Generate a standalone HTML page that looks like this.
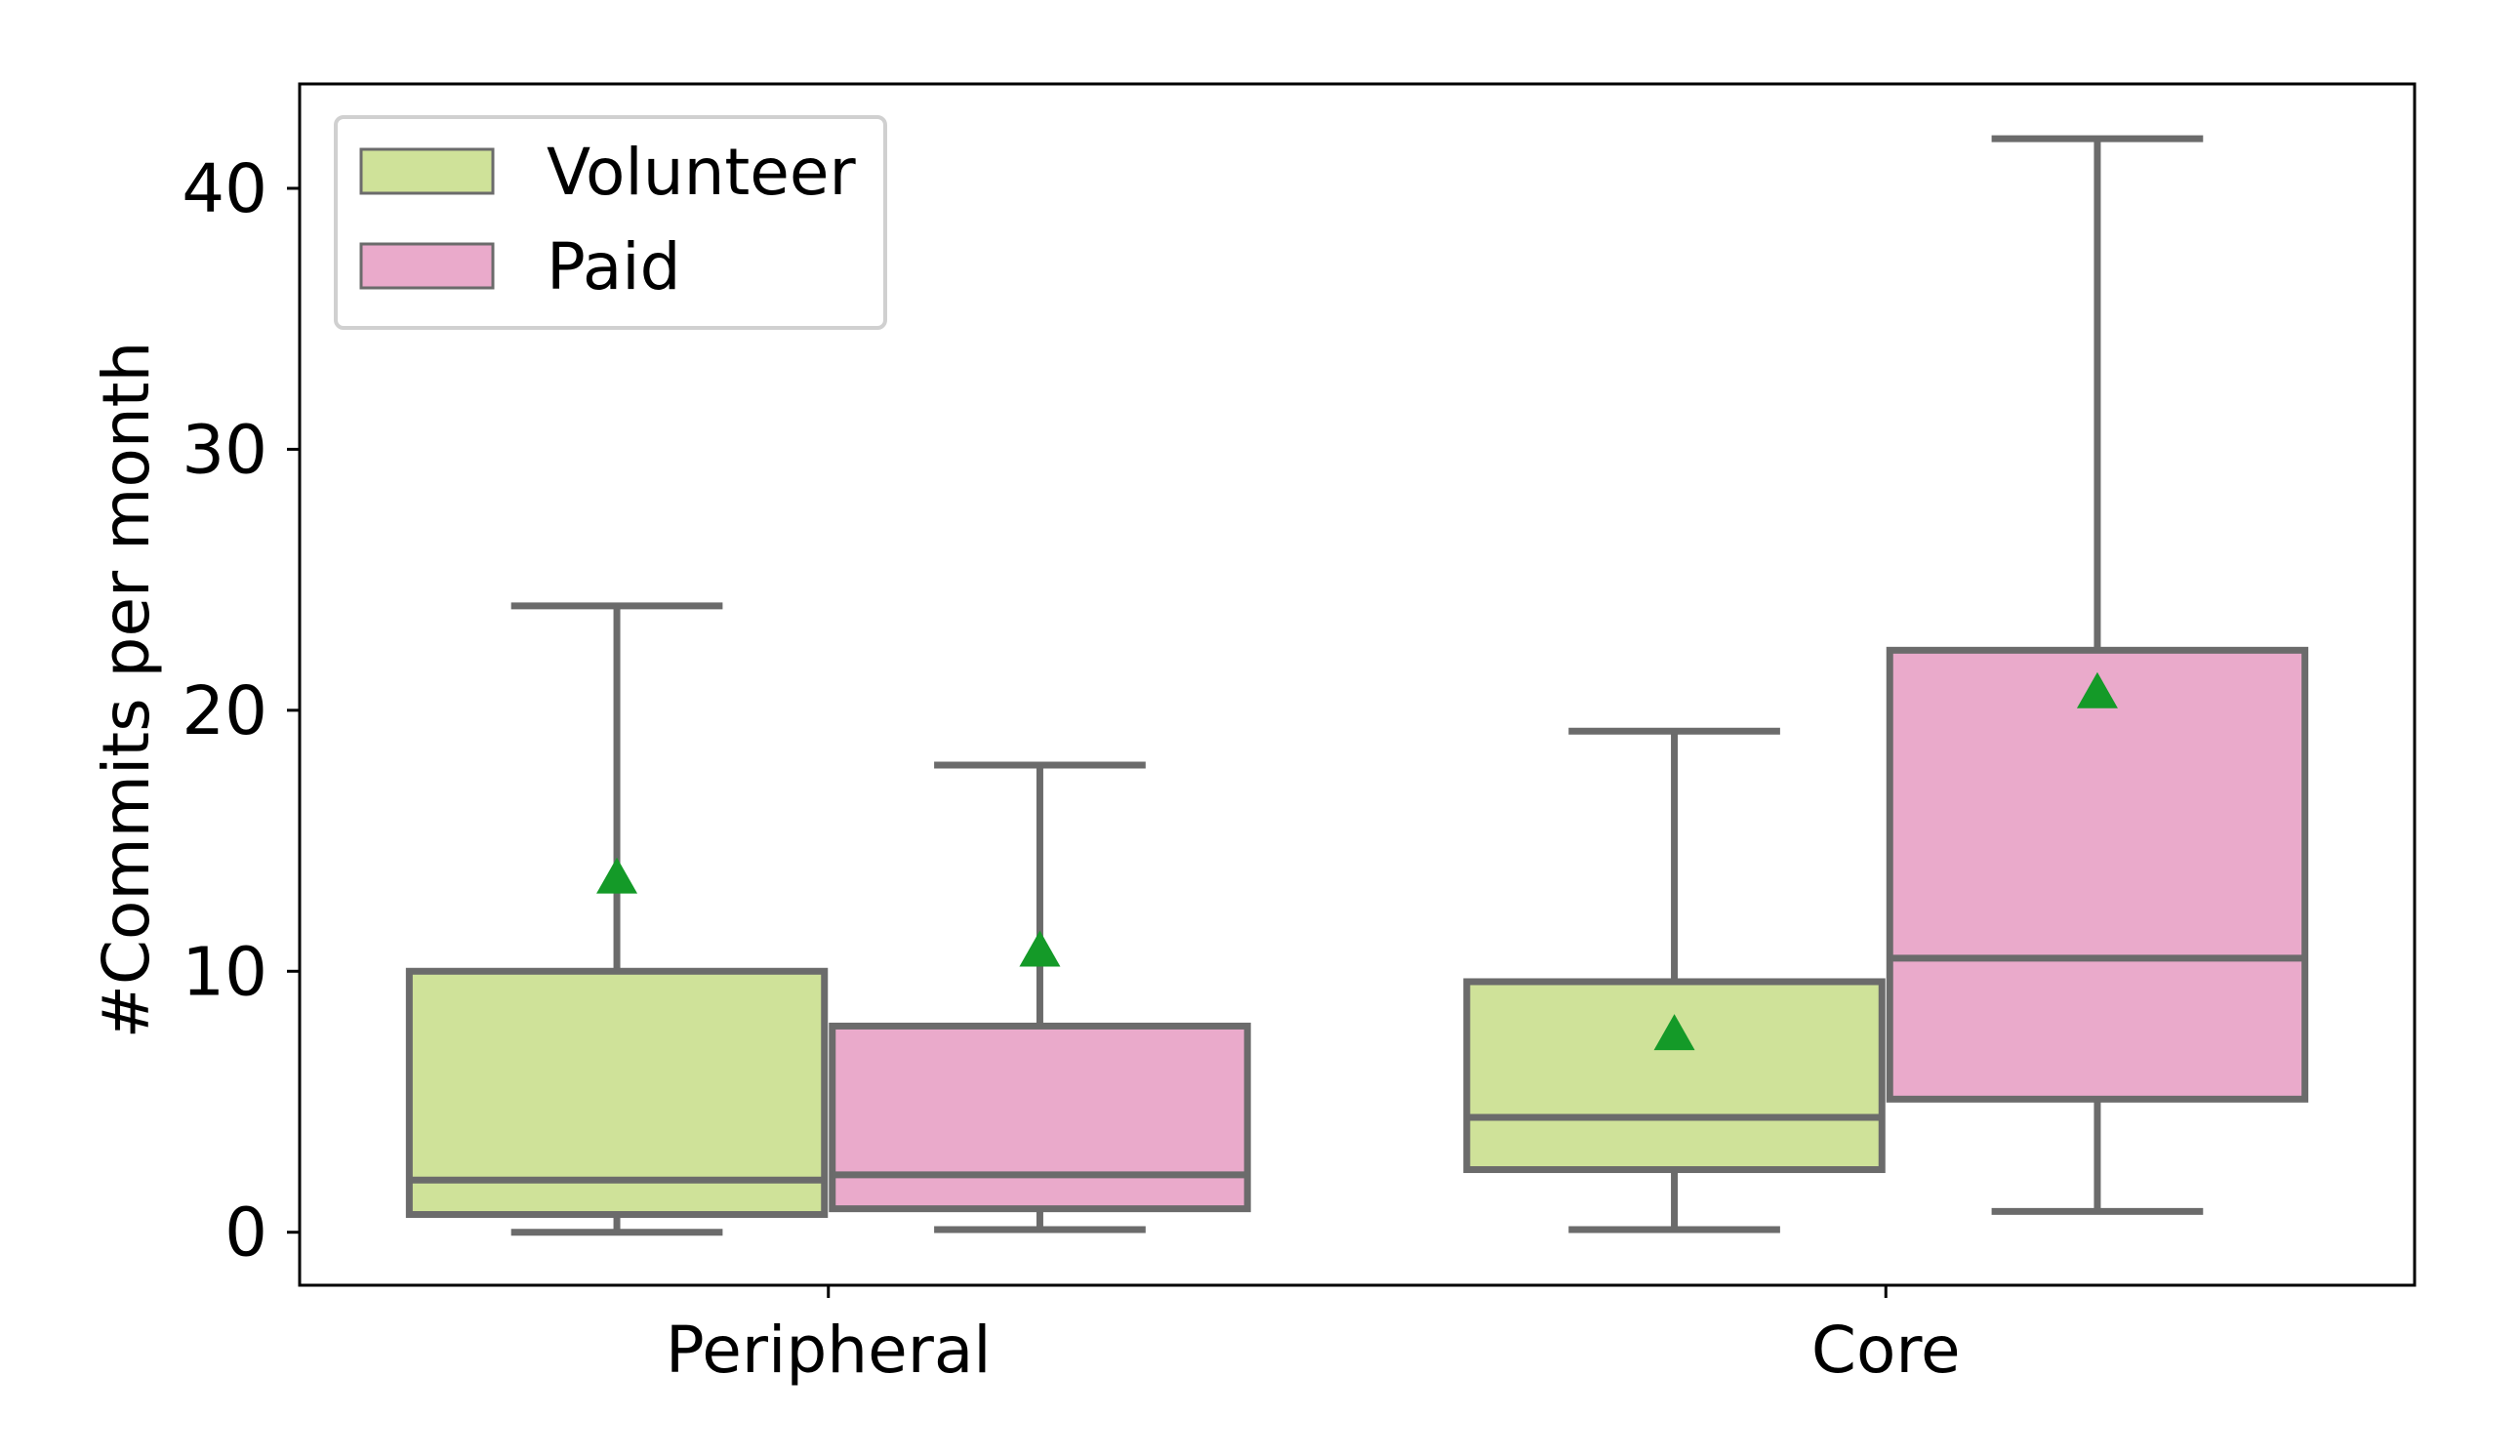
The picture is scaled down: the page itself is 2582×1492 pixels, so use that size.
<!DOCTYPE html>
<html><head><meta charset="utf-8"><style>
html,body{margin:0;padding:0;background:#fff;}
svg{display:block;font-family:"DejaVu Sans","Liberation Sans",sans-serif;}
</style></head>
<body>
<svg id="chart" width="2582" height="1492" viewBox="0 0 2582 1492" xmlns="http://www.w3.org/2000/svg"></svg>
<script>
const categories = ["Peripheral", "Core"];
const seriesNames = ["Volunteer", "Paid"];
const whiskerLow = [[0, 0.1], [0.1, 0.8]];
const q1Values = [[0.68, 0.9], [2.4, 5.1]];
const medianValues = [[2.0, 2.2], [4.4, 10.5]];
const q3Values = [[10.0, 7.9], [9.6, 22.3]];
const whiskerHigh = [[24.0, 17.9], [19.2, 41.9]];
const meanValues = [[13.5, 10.7], [7.5, 20.6]];
const yTicks = [0, 10, 20, 30, 40];

const NS = "http://www.w3.org/2000/svg";
const svg = document.getElementById("chart");
const L = 307, R = 2474, T = 86, B = 1317;
const yMin = -2.03, yMax = 44.0;
const fills = ["#cfe299", "#eaaacb"];
const edge = "#6b6b6b";
function y(v){ return B - (v - yMin) / (yMax - yMin) * (B - T); }
const step = (R - L) / categories.length;
function xc(i){ return L + step * (i + 0.5); }
const boxW = step * 0.8 / seriesNames.length;
function mk(tag, attrs){ const e = document.createElementNS(NS, tag); for (const k in attrs) e.setAttribute(k, attrs[k]); svg.appendChild(e); return e; }

const frame = mk("rect", {x:L, y:T, width:R-L, height:B-T, fill:"none", stroke:"#000", "stroke-width":3});



yTicks.forEach(t => {
  const tk = mk("line", {x1:L-13, x2:L, y1:y(t), y2:y(t), stroke:"#000", "stroke-width":3});
  
  
  const lb = mk("text", {x:L-33, y:y(t)+24, "text-anchor":"end", "font-size":69, fill:"#000"});
  lb.textContent = t;
  
  
});
categories.forEach((c, i) => {
  const tk = mk("line", {x1:xc(i), x2:xc(i), y1:B, y2:B+13, stroke:"#000", "stroke-width":3});
  
  
  const lb = mk("text", {x:xc(i), y:B+89, "text-anchor":"middle", "font-size":66, fill:"#000"});
  lb.textContent = c;
  
  
});
const yl = mk("text", {x:0, y:0, "text-anchor":"middle", "font-size":66, fill:"#000", transform:"translate(152,707) rotate(-90)"});
yl.textContent = "#Commits per month";



categories.forEach((c, i) => {
  seriesNames.forEach((s, j) => {
    const cx = xc(i) - step*0.4 + boxW*(j+0.5);
    const g = document.createElementNS(NS, "g");
    
    
    svg.appendChild(g);
    function add(tag, a){ const e = document.createElementNS(NS, tag); for (const k in a) e.setAttribute(k, a[k]); g.appendChild(e); return e; }
    const capW = boxW/2;
    add("line", {x1:cx, x2:cx, y1:y(q3Values[i][j]), y2:y(whiskerHigh[i][j]), stroke:edge, "stroke-width":7});
    add("line", {x1:cx, x2:cx, y1:y(q1Values[i][j]), y2:y(whiskerLow[i][j]), stroke:edge, "stroke-width":7});
    add("line", {x1:cx-capW/2, x2:cx+capW/2, y1:y(whiskerHigh[i][j]), y2:y(whiskerHigh[i][j]), stroke:edge, "stroke-width":7});
    add("line", {x1:cx-capW/2, x2:cx+capW/2, y1:y(whiskerLow[i][j]), y2:y(whiskerLow[i][j]), stroke:edge, "stroke-width":7});
    add("rect", {x:cx-boxW/2+4, y:y(q3Values[i][j]), width:boxW-8, height:y(q1Values[i][j])-y(q3Values[i][j]), fill:fills[j], stroke:edge, "stroke-width":7});
    add("line", {x1:cx-boxW/2+4, x2:cx+boxW/2-4, y1:y(medianValues[i][j]), y2:y(medianValues[i][j]), stroke:edge, "stroke-width":7});
    const my = y(meanValues[i][j]);
    add("polygon", {points:`${cx},${my-23} ${cx-21},${my+14} ${cx+21},${my+14}`, fill:"#149a28"});
  });
});

const lg = document.createElementNS(NS, "g");


svg.appendChild(lg);
const lbox = document.createElementNS(NS, "rect");
[["x",344],["y",120],["width",563],["height",216],["rx",8],["fill","#fff"],["stroke","#d0d0d0"],["stroke-width",4]].forEach(a=>lbox.setAttribute(a[0],a[1]));
lg.appendChild(lbox);
seriesNames.forEach((s, j) => {
  const yy = 153 + j*97;
  const p = document.createElementNS(NS, "rect");
  [["x",370],["y",yy],["width",135],["height",45],["fill",fills[j]],["stroke",edge],["stroke-width",3]].forEach(a=>p.setAttribute(a[0],a[1]));
  
  
  lg.appendChild(p);
  const t = document.createElementNS(NS, "text");
  t.setAttribute("x", 560); t.setAttribute("y", yy+46); t.setAttribute("font-size", 66);
  t.textContent = s;
  
  
  lg.appendChild(t);
});
</script>
</body></html>
